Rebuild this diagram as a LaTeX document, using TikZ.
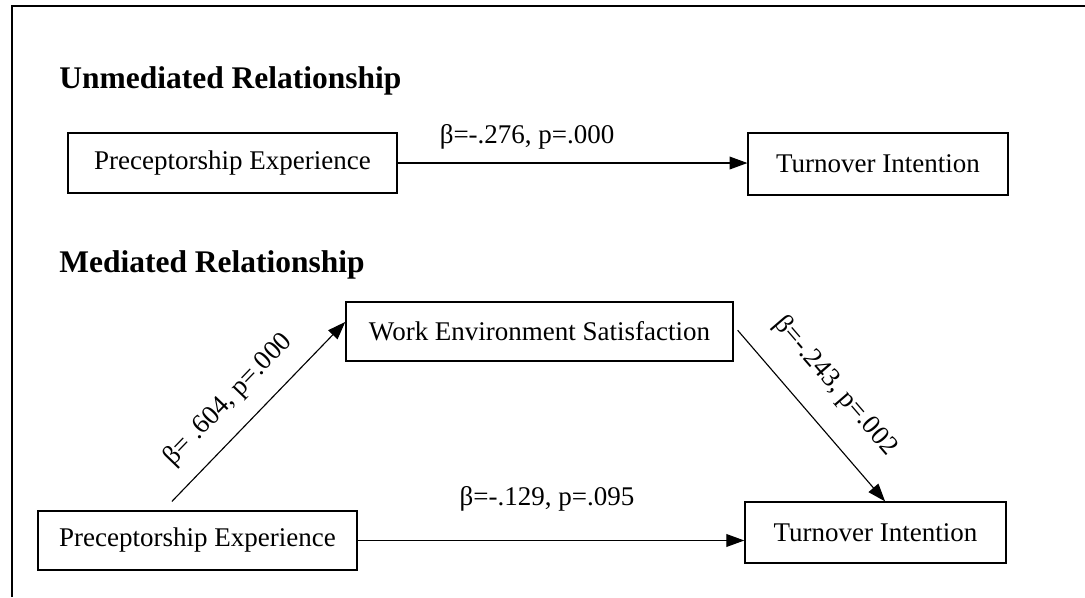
\documentclass[tikz,border=0pt]{standalone}
\usepackage{fontspec}
\setmainfont{Liberation Serif}
\usetikzlibrary{arrows.meta}

\begin{document}
\begin{tikzpicture}[
  font=\fontsize{12}{14.4}\selectfont,
  every node/.style={align=center},
  box/.style={rectangle, draw=black, line width=0.6pt, inner sep=0pt, minimum height=0.93cm},
  heading/.style={anchor=base west, inner sep=0pt, font=\fontsize{14}{16.8}\selectfont\bfseries},
  coef/.style={inner sep=1pt},
  arrow/.style={-{Triangle[length=0.28cm, width=0.2cm]}, line width=0.5pt, black},
  frame/.style={line width=0.9pt}
]
  \useasboundingbox (0,0) rectangle (16.953,-9.328);
  \draw[frame] (0.19,-9.328) -- (0.19,-0.094) -- (16.953,-0.094);

  % unmediated model
  \node[heading] (unmed) at (0.92,-1.39) {Unmediated Relationship};
  \node[box, minimum width=5.14cm, minimum height=0.94cm] (pe1) at (3.633,-2.547) {Preceptorship Experience};
  \node[box, minimum width=4.06cm, minimum height=0.97cm] (ti1) at (13.719,-2.563) {Turnover Intention};

  % mediated model
  \node[heading] (med) at (0.92,-4.25) {Mediated Relationship};
  \node[box, minimum width=6.05cm, minimum height=0.92cm] (wes) at (8.430,-5.180) {Work Environment Satisfaction};
  \node[box, minimum width=4.98cm, minimum height=0.92cm] (pe2) at (3.086,-8.445) {Preceptorship Experience};
  \node[box, minimum width=4.08cm, minimum height=0.95cm] (ti2) at (13.680,-8.320) {Turnover Intention};

  \draw[arrow] (pe1.east) -- (pe1.east -| ti1.west) node[coef, pos=0.37, above=0.17cm] {β=-.276, p=.000};
  \draw[arrow] ([xshift=-0.40cm, yshift=0.14cm]pe2.north) -- ([yshift=0.15cm]wes.west)
    node[coef, pos=0.45, sloped, above=0.23cm] {β= .604, p=.000};
  \draw[arrow] ([xshift=0.06cm, yshift=0.02cm]wes.east) -- ([xshift=0.15cm]ti2.north)
    node[coef, pos=0.47, sloped, above=0.35cm] {β=-.243, p=.002};
  \draw[arrow] (pe2.east) -- (pe2.east -| ti2.west) node[coef, pos=0.49, above=0.42cm] {β=-.129, p=.095};
\end{tikzpicture}
\end{document}
